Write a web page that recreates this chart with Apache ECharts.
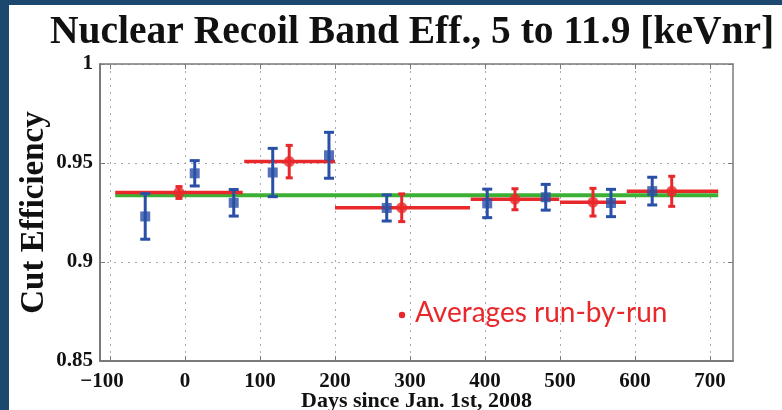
<!DOCTYPE html>
<html>
<head>
<meta charset="utf-8">
<script src="https://cdn.jsdelivr.net/npm/echarts@6.0.0/dist/echarts.min.js"></script>
<style>
  html, body { margin: 0; padding: 0; background: #ffffff; }
  #chart { width: 782px; height: 410px; }
</style>
</head>
<body>
<div id="chart"></div>
<script>
// Per-run cut efficiency (blue) with statistical errors
const blueDays = [-53, 13, 65, 117, 192, 269, 403, 481, 568, 623];
const blueEff  = [0.9230, 0.9448, 0.9299, 0.9452, 0.9539, 0.9273, 0.9296, 0.9327, 0.9298, 0.9358];
const blueErr  = [0.0115, 0.0064, 0.0067, 0.0122, 0.0116, 0.0066, 0.0072, 0.0065, 0.0069, 0.0070];

// Run-by-run averages (red): centre day, efficiency, error, run start/end day
const redDays  = [-8, 139, 289, 440, 544, 649];
const redEff   = [0.9351, 0.9507, 0.9274, 0.9317, 0.9302, 0.9357];
const redErr   = [0.0030, 0.0082, 0.0070, 0.0053, 0.0070, 0.0076];
const redStart = [-93, 79, 200, 381, 500, 589];
const redEnd   = [77, 200, 380, 499, 588, 711];

// Overall average (green)
const avgSpan = [-93, 711];
const avgEff  = 0.9337;

// Axis ticks
const xTicks = [-100, 0, 100, 200, 300, 400, 500, 600, 700];
const yTicks = [0.85, 0.9, 0.95, 1];

const SERIF = '"Liberation Serif", "Times New Roman", serif';
const BLUE = '#2a4fa6';
const RED = '#e8282b';
const GREEN = '#3cb034';
const AXIS_GRAY = '#7a7a7a';

const chart = echarts.init(document.getElementById('chart'), null, { renderer: 'canvas' });

function errorBarRenderer(color, capHalf, lineW) {
  return function (params, api) {
    const x = api.value(0), y = api.value(1), e = api.value(2);
    const top = api.coord([x, y + e]);
    const bot = api.coord([x, y - e]);
    const style = { stroke: color, lineWidth: lineW };
    return {
      type: 'group',
      children: [
        { type: 'line', shape: { x1: top[0], y1: top[1], x2: bot[0], y2: bot[1] }, style },
        { type: 'line', shape: { x1: top[0] - capHalf, y1: top[1], x2: top[0] + capHalf, y2: top[1] }, style },
        { type: 'line', shape: { x1: bot[0] - capHalf, y1: bot[1], x2: bot[0] + capHalf, y2: bot[1] }, style }
      ]
    };
  };
}

function segmentRenderer(color, lineW) {
  return function (params, api) {
    const a = api.coord([api.value(0), api.value(2)]);
    const b = api.coord([api.value(1), api.value(2)]);
    return {
      type: 'line',
      shape: { x1: a[0], y1: a[1], x2: b[0], y2: b[1] },
      style: { stroke: color, lineWidth: lineW }
    };
  };
}

const blueErrData = blueDays.map((d, i) => [d, blueEff[i], blueErr[i]]);
const blueMarkData = blueDays.map((d, i) => [d, blueEff[i]]);
const redErrData = redDays.map((d, i) => [d, redEff[i], redErr[i]]);
const redMarkData = redDays.map((d, i) => [d, redEff[i]]);
const redSegData = redStart.map((s, i) => [s, redEnd[i], redEff[i]]);

const xMin = -113.3, xMax = 730.7;

const tickLabelStyle = { fontFamily: SERIF, fontWeight: 'bold', fontSize: 21, color: '#111111' };

const option = {
  animation: false,
  backgroundColor: '#ffffff',
  title: {
    text: 'Nuclear Recoil Band Eff., 5 to 11.9 [keVnr]',
    left: 45,
    top: 8,
    textStyle: { fontFamily: SERIF, fontWeight: 'bold', fontSize: 39.5, color: '#111111' }
  },
  graphic: [
    { type: 'rect', shape: { x: 0, y: 0, width: 9, height: 410 }, style: { fill: '#1c4870' }, silent: true },
    { type: 'rect', shape: { x: 0, y: 0, width: 782, height: 5 }, style: { fill: '#1c4870' }, silent: true },
    { type: 'circle', shape: { cx: 402, cy: 315, r: 3.2 }, style: { fill: RED }, silent: true },
    {
      type: 'text', left: 415, top: 299, silent: true,
      style: { text: 'Averages run-by-run', fill: RED, font: '28px Lato, "Open Sans", sans-serif' }
    }
  ],
  grid: { left: 100, right: 49, top: 64, bottom: 49, containLabel: false, outerBoundsMode: 'none' },
  xAxis: [
    {
      type: 'value', position: 'bottom', min: xMin, max: xMax,
      name: 'Days since Jan. 1st, 2008', nameLocation: 'middle', nameGap: 29, nameMoveOverlap: false,
      nameTextStyle: { fontFamily: SERIF, fontWeight: 'bold', fontSize: 22, color: '#111111' },
      axisLine: { show: true, onZero: false, lineStyle: { color: AXIS_GRAY, width: 2 } },
      axisTick: { show: true, inside: true, length: 5, customValues: xTicks, lineStyle: { color: AXIS_GRAY, width: 1 } },
      axisLabel: Object.assign({
        customValues: xTicks, margin: 10,
        formatter: v => (v < 0 ? '{neg|\u2212' + Math.abs(v) + '}' : String(v)),
        rich: { neg: Object.assign({ padding: [0, 16, 0, 0] }, tickLabelStyle) }
      }, tickLabelStyle),
      splitLine: { show: true, lineStyle: { color: '#aaaaaa', width: 1, type: [2, 5] } }
    },
    {
      type: 'value', position: 'top', min: xMin, max: xMax,
      axisLine: { show: true, onZero: false, lineStyle: { color: AXIS_GRAY, width: 1.5 } },
      axisTick: { show: true, inside: true, length: 5, customValues: xTicks, lineStyle: { color: AXIS_GRAY, width: 1 } },
      axisLabel: { show: false },
      splitLine: { show: false }
    }
  ],
  yAxis: [
    {
      type: 'value', position: 'left', min: 0.85, max: 1, interval: 0.05,
      name: 'Cut Efficiency', nameLocation: 'middle', nameGap: 49, nameRotate: 90, nameMoveOverlap: false,
      nameTextStyle: { fontFamily: SERIF, fontWeight: 'bold', fontSize: 33, color: '#111111' },
      axisLine: { show: true, onZero: false, lineStyle: { color: AXIS_GRAY, width: 2 } },
      axisTick: { show: true, inside: true, length: 5, customValues: yTicks, lineStyle: { color: AXIS_GRAY, width: 1 } },
      axisLabel: Object.assign({
        customValues: yTicks, margin: 7,
        verticalAlignMinLabel: 'middle', verticalAlignMaxLabel: 'middle',
        formatter: v => String(Math.round(v * 100) / 100)
      }, tickLabelStyle),
      splitLine: { show: true, lineStyle: { color: '#aaaaaa', width: 1, type: [2, 5] } }
    },
    {
      type: 'value', position: 'right', min: 0.85, max: 1, interval: 0.05,
      axisLine: { show: true, onZero: false, lineStyle: { color: AXIS_GRAY, width: 1.5 } },
      axisTick: { show: true, inside: true, length: 5, customValues: yTicks, lineStyle: { color: AXIS_GRAY, width: 1 } },
      axisLabel: { show: false },
      splitLine: { show: false }
    }
  ],
  series: [
    {
      name: 'Average', type: 'line', xAxisIndex: 0, yAxisIndex: 0,
      data: [[avgSpan[0], avgEff], [avgSpan[1], avgEff]],
      symbol: 'none', lineStyle: { color: GREEN, width: 4 }, z: 2, silent: true
    },
    {
      name: 'Run spans', type: 'custom', xAxisIndex: 0, yAxisIndex: 0,
      data: redSegData, renderItem: segmentRenderer(RED, 3.5), z: 3, silent: true
    },
    {
      name: 'Run errors', type: 'custom', xAxisIndex: 0, yAxisIndex: 0,
      data: redErrData, renderItem: errorBarRenderer(RED, 3.5, 3), z: 4, silent: true
    },
    {
      name: 'Run averages', type: 'scatter', xAxisIndex: 0, yAxisIndex: 0,
      data: redMarkData, symbol: 'circle', symbolSize: 11,
      itemStyle: { color: RED }, z: 5, silent: true
    },
    {
      name: 'Efficiency errors', type: 'custom', xAxisIndex: 0, yAxisIndex: 0,
      data: blueErrData, renderItem: errorBarRenderer(BLUE, 5, 3), z: 6, silent: true
    },
    {
      name: 'Efficiency', type: 'scatter', xAxisIndex: 0, yAxisIndex: 0,
      data: blueMarkData, symbol: 'rect', symbolSize: 10,
      itemStyle: { color: BLUE }, z: 7, silent: true
    }
  ]
};

chart.setOption(option);
</script>
</body>
</html>
